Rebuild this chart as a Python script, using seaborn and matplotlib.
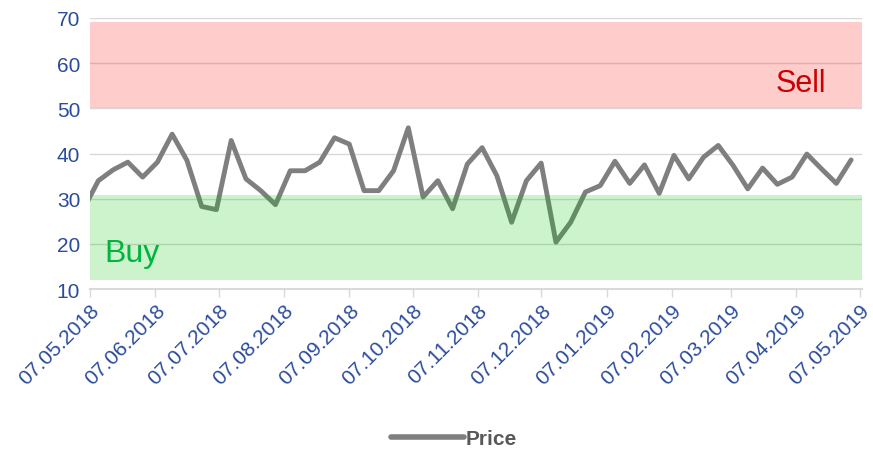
import pandas as pd
import numpy as np
import matplotlib.pyplot as plt
import matplotlib.dates as mdates
import seaborn as sns

# weekly closing prices (Fridays), 04.05.2018 - 03.05.2019
dates = pd.date_range('2018-05-04', '2019-05-03', freq='7D')
price = [27.8, 34.0, 36.4, 38.1, 34.8, 38.1, 44.3, 38.5, 28.3, 27.6,
         42.9, 34.4, 31.8, 28.7, 36.2, 36.2, 38.1, 43.5, 42.1, 31.8,
         31.8, 36.2, 45.7, 30.4, 34.0, 27.8, 37.7, 41.3, 35.1, 24.8,
         34.0, 37.9, 20.4, 24.8, 31.5, 32.9, 38.3, 33.4, 37.5, 31.2,
         39.6, 34.4, 39.2, 41.8, 37.4, 32.2, 36.8, 33.2, 34.8, 39.9,
         36.6, 33.4, 38.6]

tick_dates = pd.date_range('2018-05-01', '2019-05-01', freq='MS') + pd.Timedelta(days=6)
y_ticks = [10, 20, 30, 40, 50, 60, 70]

sell_zone = (50, 69.2)
buy_zone = (12, 30.9)

df = pd.DataFrame({'date': dates, 'Price': price})

sns.set_style('white')
plt.rcParams['font.family'] = ['Liberation Sans', 'DejaVu Sans']

blue = '#2B4C9B'
grid_c = '#D9D9D9'

fig = plt.figure(figsize=(8.73, 4.52), dpi=100)
ax = fig.add_axes([0.103, 0.358, 0.884, 0.6])

sns.lineplot(data=df, x='date', y='Price', ax=ax, color='#7F7F7F', linewidth=3.5, label='Price')

# zones drawn on top, semi transparent
ax.axhspan(*sell_zone, color='red', alpha=0.2, lw=0, zorder=5)
ax.axhspan(*buy_zone, color=(0.0, 0.78, 0.0), alpha=0.2, lw=0, zorder=5)
ax.text(pd.Timestamp('2019-03-28'), 53.8, 'Sell', color='#C00000', fontsize=22, ha='left', va='baseline')
ax.text(pd.Timestamp('2018-05-14'), 16.2, 'Buy', color='#00B050', fontsize=23, ha='left', va='baseline')

ax.set_ylim(10, 70)
ax.set_xlim(pd.Timestamp('2018-05-07'), pd.Timestamp('2019-05-08'))
ax.set_yticks(y_ticks)
ax.set_xticks(tick_dates)
ax.xaxis.set_major_formatter(mdates.DateFormatter('%d.%m.%Y'))
ax.yaxis.grid(True, color=grid_c, lw=1)
ax.set_axisbelow(True)

for s in ['top', 'right', 'left']:
    ax.spines[s].set_visible(False)
ax.spines['bottom'].set_color(grid_c)
ax.spines['bottom'].set_linewidth(1.5)

ax.tick_params(axis='x', length=6, width=1, color=grid_c, bottom=True, labelsize=15, labelcolor=blue, pad=2)
ax.tick_params(axis='y', length=0, labelsize=15, labelcolor=blue, pad=7)
for lab in ax.get_xticklabels():
    lab.set_rotation(45)
    lab.set_ha('right')
    lab.set_va('top')
    lab.set_rotation_mode('anchor')

ax.set_xlabel('')
ax.set_ylabel('')

h, l = ax.get_legend_handles_labels()
ax.get_legend().remove()
leg = fig.legend(h, l, loc='center', bbox_to_anchor=(0.52, 0.027), frameon=False,
                 handlelength=3.5, handletextpad=0.1,
                 prop={'size': 15, 'weight': 'bold'}, labelcolor='#595959')
for ln in leg.get_lines():
    ln.set_linewidth(4)

fig.savefig('out.png', dpi=100)
